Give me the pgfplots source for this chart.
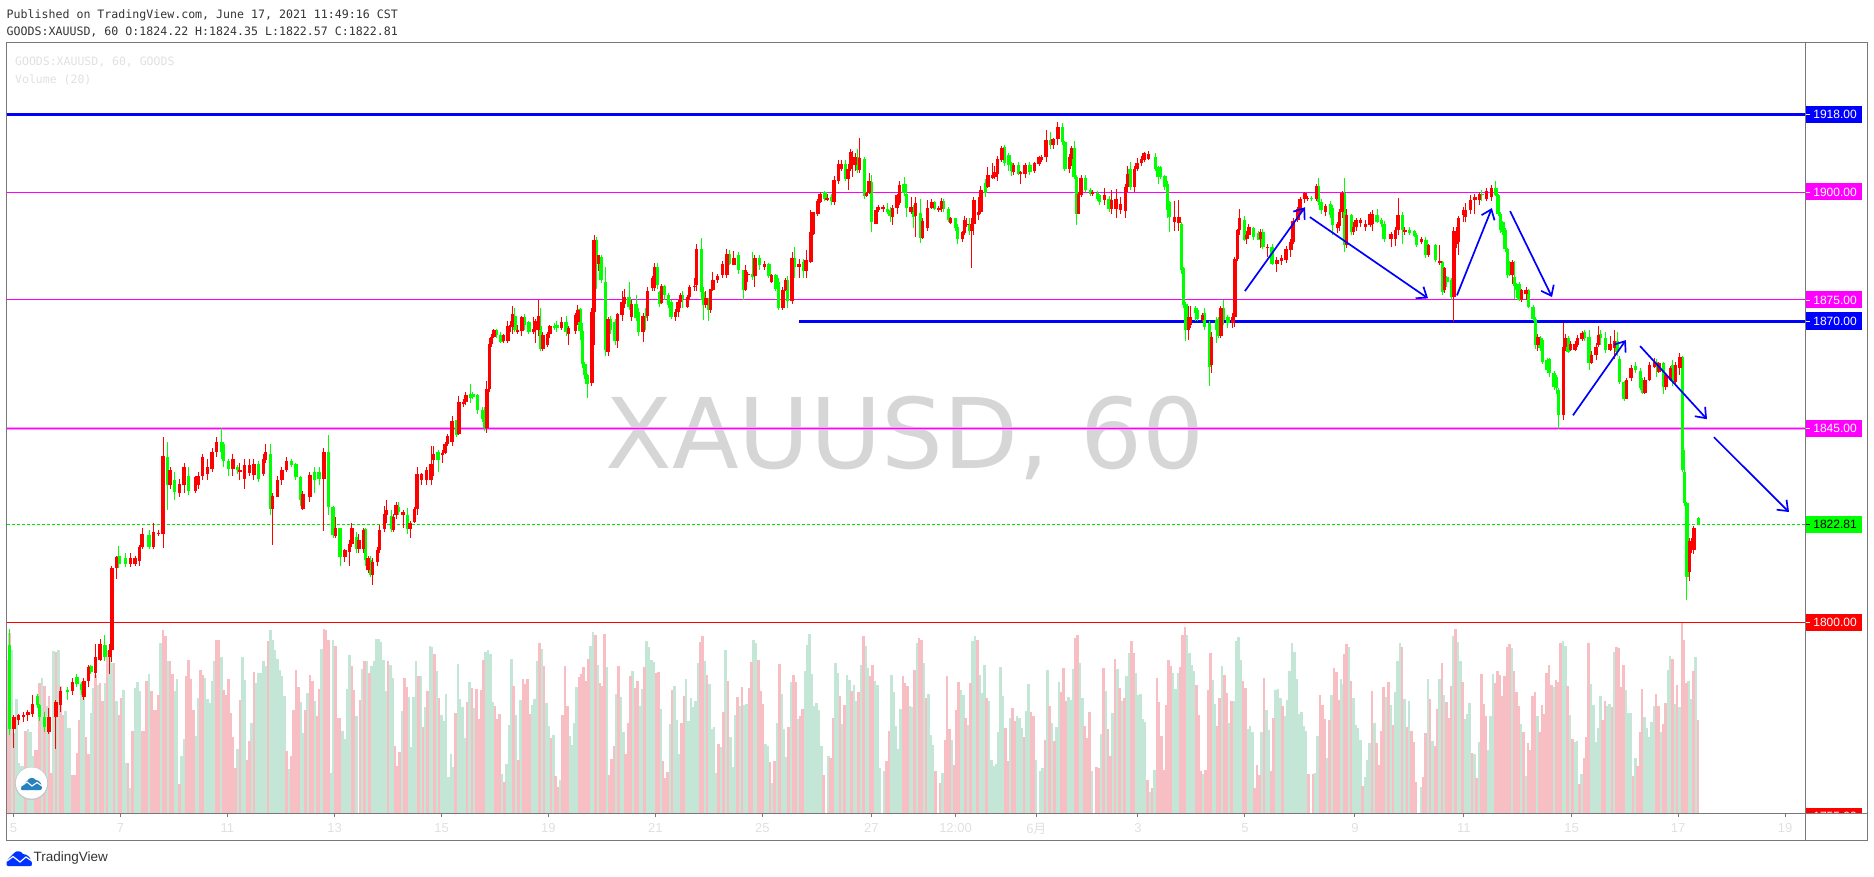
\documentclass[border=0pt]{standalone}
\usepackage{fontspec}
\usepackage{pgfplots}
\usepackage{pgfplotstable}
\pgfplotsset{compat=1.18}
\usetikzlibrary{arrows.meta}
\setmainfont{Liberation Sans}
\newfontfamily\monof{DejaVu Sans Mono}
\newfontfamily\markf{DejaVu Sans}
\newfontfamily\cjk{Noto Sans CJK SC}
\definecolor{upc}{HTML}{FF0000}
\definecolor{dnc}{HTML}{00FF00}
\definecolor{volup}{HTML}{F7BFC3}
\definecolor{voldn}{HTML}{C3E6D6}
\definecolor{frame}{HTML}{787878}
\definecolor{faint}{HTML}{E0E0E0}
\definecolor{mag}{HTML}{FF00FF}
\definecolor{lineb}{HTML}{0000FF}
% t = hour index, one row for about every second bar
\pgfplotstableread{
t o h l c
1 1794.6 1798.5 1773.7 1775.2
3 1775.2 1778.5 1770.7 1778
5 1777.2 1778.6 1776 1778.5
7 1778 1779 1776.8 1778.3
9 1778.4 1779.5 1777 1779
11 1778.7 1783 1778 1780.9
13 1782.8 1783.2 1780 1780.7
14 1780.7 1781 1777 1778
16 1778 1779 1774.5 1775.5
18 1774.5 1780 1774 1778
21 1778 1782 1770.4 1781.5
23 1780.7 1785 1779 1784
26 1784.2 1785 1782 1784
28 1784 1787 1783 1786
30 1787.2 1788 1785 1785.7
32 1785.7 1786 1783 1784.2
33 1782.6 1787 1782 1786.2
35 1786.2 1790 1785 1789.6
36 1789.7 1790 1788 1788.4
38 1788.2 1795 1787 1792
40 1791.3 1796 1791 1794.9
42 1794.6 1797 1791 1791.8
44 1791.8 1795 1788 1793.5
45 1793.5 1813 1790.7 1812.5
47 1812.5 1815.5 1810 1815.2
48 1815.5 1817.8 1812.5 1813.6
51 1815 1816 1812.8 1813.6
53 1813.6 1816 1812.8 1814.8
55 1813.6 1815.5 1813 1814.8
57 1814.2 1818 1813 1817.5
58 1817.5 1822 1817 1820.4
61 1820.2 1821.5 1817 1817.5
63 1817.5 1823 1817 1821
65 1820.6 1821.5 1820 1820.8
67 1820.5 1843 1817.2 1838.6
69 1838.5 1842 1826 1831.8
70 1831.8 1836 1831 1835.3
72 1833 1835 1828.5 1830.3
74 1830 1833.2 1829 1832.2
76 1832 1837 1830 1836
78 1834 1836 1829.6 1830.5
81 1830.5 1834 1830 1833.8
82 1831.8 1835 1831 1833.9
84 1833.9 1839 1833 1838.3
86 1834.4 1838 1833 1836
88 1835.7 1840.5 1835 1839.6
90 1839.6 1843 1838.5 1841.9
92 1842 1845.2 1838 1839.6
93 1841.5 1842 1836 1837.6
95 1837.6 1838 1834 1835.7
97 1835.7 1839 1834 1838
99 1836.1 1836.5 1834.5 1835.3
100 1835 1837 1833 1835.5
102 1833.2 1838 1831 1836.5
104 1834.7 1838 1834 1836.5
106 1834.2 1838 1833 1836.9
108 1836.9 1837.5 1832.5 1833.2
110 1834.5 1839 1834 1838
111 1837.8 1841.5 1837 1839.6
113 1839.2 1841.5 1825 1826.4
114 1826.4 1830 1818 1829.3
116 1829.2 1834 1829 1833
118 1833 1836 1832 1835.3
120 1835.3 1838.5 1835 1837.6
122 1837.5 1838 1836 1836.5
124 1836.7 1837 1833 1833.8
126 1833.8 1834 1827 1828.3
127 1826.2 1830.5 1826 1829.9
130 1829.1 1835 1828 1834.2
132 1835 1836 1830 1833
134 1835 1836 1832 1833.3
136 1833.4 1840.5 1821.2 1839.6
138 1839.6 1843.5 1825 1826.8
140 1826.8 1827 1819.5 1820.2
141 1820 1824.5 1819.5 1822
143 1821.8 1822 1813 1815.2
145 1815.2 1817 1814 1816.7
147 1816.3 1819 1813 1818.2
148 1818.2 1823 1817.5 1821.8
150 1819.8 1821 1816 1817.1
151 1817.1 1820.6 1816 1819
153 1817.1 1822 1816 1821.4
154 1821.7 1822 1813 1814.4
155 1812.1 1815.5 1811.5 1814.8
156 1814.4 1815.5 1810.5 1810.9
157 1810.9 1815 1808.6 1814
159 1814 1817.5 1813 1816.7
160 1816.7 1822.5 1816 1821.4
162 1821.7 1827 1821 1825.2
163 1824.9 1828.4 1823 1826
165 1824.8 1826 1821 1821.7
166 1821.4 1825.2 1821 1824.5
167 1824.9 1828 1824 1827.2
168 1826.8 1828 1825 1825.6
170 1824.9 1826 1822 1825.6
172 1824.9 1826.5 1820.6 1821.7
173 1821.7 1823.5 1819.5 1823
175 1823.3 1826.8 1823 1826.4
176 1826.4 1836 1825 1834.5
178 1833 1834.8 1832 1834.5
180 1833.1 1836 1832 1835.5
182 1833 1841 1832 1836.8
183 1837.6 1841 1834 1839.2
185 1839.6 1840 1835 1837.6
187 1838.8 1840 1837 1839.4
188 1839.4 1842 1839 1841.5
189 1841.5 1843.7 1841 1843.4
191 1841.9 1847.9 1841 1846.9
193 1846.9 1847 1843 1843.6
194 1843.8 1852.7 1843.5 1851.2
196 1850.7 1851.8 1850 1851.2
197 1851.2 1853.5 1850.5 1852.8
199 1853.1 1855.3 1851 1852.2
200 1853.1 1853.5 1852 1852.4
202 1852.9 1853.1 1848.5 1849.4
204 1849.4 1850 1846.5 1847.3
205 1847.3 1850 1844.5 1845.2
206 1845.2 1856 1844 1854.3
207 1854.3 1866 1853.5 1864.6
208 1864.6 1867 1864 1866.3
209 1866.3 1868.2 1866 1867.9
210 1868 1868.3 1866 1866.7
212 1866.9 1867.5 1865 1865.2
213 1865.5 1867 1865 1866.7
215 1865.5 1870 1865 1868.8
216 1868.6 1870 1867.5 1869.2
217 1868.6 1873.6 1867 1871.7
218 1871.3 1873 1867.5 1867.9
219 1867.6 1869 1867 1868
221 1867.7 1871.2 1866.5 1871
222 1871 1871.6 1868 1869
224 1869.8 1870 1867 1867.5
226 1867.5 1871 1867 1868.2
227 1867.9 1870.5 1865 1870
228 1868 1875 1866.5 1871.1
229 1869 1873 1863 1863.6
230 1863.6 1867.5 1863 1866.7
232 1864.4 1867.5 1864 1867.1
233 1867.1 1869 1866 1868.8
235 1869 1869.5 1868 1868.5
236 1869.2 1870 1867.5 1868.5
238 1868.3 1871 1868 1869.8
240 1869.8 1871.3 1866.5 1867.5
241 1867.1 1869 1864.5 1868.5
244 1867.7 1872 1867 1871.4
245 1869.8 1873.8 1869 1872.7
246 1872.9 1873 1865.7 1867.7
247 1867.7 1869.5 1859 1860.1
248 1860.1 1860.5 1856.5 1857.4
249 1857.4 1857.8 1852.2 1855.5
251 1855.6 1873 1855 1872.1
252 1872.1 1890 1864.5 1888.8
253 1888.9 1889.5 1877.5 1883.4
254 1883.4 1885.5 1881.7 1885.3
255 1884.9 1885.3 1879 1879.5
257 1879.1 1882.5 1862 1863.2
258 1862.8 1871 1862 1870.6
259 1870.4 1871.2 1867 1867.9
261 1869.8 1870.5 1864.5 1865.5
262 1865.5 1872 1863.8 1871.6
264 1871.4 1877 1870 1874.5
265 1874.1 1877.5 1873 1875.6
267 1875.6 1879 1872.5 1873.3
268 1871 1875 1870 1873.9
270 1874 1876 1870 1870.8
271 1872.1 1873 1866.5 1867.5
273 1867.6 1872 1865.2 1871.1
274 1871.3 1873 1868 1870.8
275 1871.1 1878 1870 1877
277 1877.6 1880.6 1877 1880.1
278 1877.8 1883.6 1877 1882.6
279 1882.6 1883.6 1877.5 1878.3
280 1876.8 1877 1873.3 1874.1
281 1874.2 1878.6 1874 1878.3
282 1878.1 1878.5 1875 1876
284 1876 1876.5 1873 1873.7
285 1874.5 1875 1870.5 1871
287 1871 1872.8 1870 1872.1
288 1872.1 1875 1871 1874.5
289 1874.5 1876.5 1873 1876
290 1876 1877 1873 1875.2
292 1873.3 1876 1873 1875.6
293 1875.6 1878.5 1875 1878
295 1878 1880 1877 1878.3
296 1878.3 1888 1877 1886.9
298 1886.9 1889.3 1875 1876.8
299 1876.8 1878 1870.2 1873.7
300 1873.7 1877 1873 1875.3
301 1875.3 1875.5 1870 1872.6
302 1872.6 1877.6 1872 1877.4
303 1877.2 1881.5 1877 1879.5
305 1879.5 1881 1879 1880.5
307 1880.7 1884 1880 1883.4
309 1880.7 1886.7 1880 1885.7
310 1885.7 1886.5 1883 1883.2
312 1883 1886.3 1883 1884.6
314 1885.5 1886 1881 1881.9
316 1881.9 1882 1875 1877.2
317 1877.2 1883 1877 1881.9
318 1880.8 1881.5 1879 1881
320 1881 1886 1879.5 1880.3
321 1880.5 1885.5 1878 1884.6
323 1884.6 1885.5 1882 1883
325 1882.6 1884 1882 1883.2
327 1883.2 1883.5 1880 1880.5
328 1879.2 1881 1879 1880.7
330 1880.7 1881 1877 1877.6
331 1879.1 1880 1872.6 1873
333 1873 1878 1872.6 1877.2
334 1877.2 1880 1877 1879.5
335 1879.5 1880.5 1873 1874.7
337 1874.7 1886.2 1874 1884.6
338 1884.6 1887.2 1880 1882.6
340 1882.5 1884.5 1880 1883.4
342 1883.8 1884.5 1880 1881.7
343 1881.7 1886.5 1880 1884.2
345 1883.8 1895.8 1883.5 1890.8
346 1890.4 1895.5 1890 1895.3
348 1895 1898.5 1894.5 1898
349 1897.8 1900 1897.5 1899.7
351 1900 1900.2 1898 1898.5
352 1898.3 1899.5 1898 1898.7
354 1898.9 1899.5 1897 1898
355 1897.8 1903.7 1897 1902.8
357 1902.6 1907.5 1902 1906.5
358 1905.3 1907.5 1905 1906.5
360 1906.5 1907.5 1902.5 1903
361 1903 1906.5 1900.5 1905.5
362 1905.3 1910 1905 1909.4
363 1906.3 1909.5 1903.6 1908.2
364 1906.3 1909 1905 1908.2
365 1908.2 1910 1904.5 1905.1
366 1905.1 1912.7 1904.5 1908
368 1907.8 1908.2 1898.5 1899.1
369 1899.1 1900 1899 1899.8
370 1899.8 1904.5 1899.5 1902.6
371 1902.4 1904 1890.7 1893.1
373 1892.7 1896.5 1892.5 1895.8
374 1895.8 1897 1895.5 1896.6
376 1896 1897 1895.5 1896.6
378 1896.2 1897.5 1895 1895.4
379 1895.8 1896.5 1893 1894.4
380 1894.3 1897 1892.3 1896.4
382 1896.4 1899.6 1895 1899.3
383 1897.4 1902.5 1897 1901.6
385 1902 1903.5 1899 1899.7
386 1899.7 1902 1894.2 1896.4
388 1895.4 1899 1895 1896.6
389 1896.6 1897 1891.7 1894.3
390 1894.4 1899 1889.5 1897.4
392 1895.2 1898.5 1888.2 1889.4
393 1889.4 1894 1889 1893.3
395 1891.6 1898.2 1891 1896.4
397 1896.4 1898.5 1896 1897.7
398 1897.7 1898 1895.8 1896.2
400 1896 1896.8 1895.5 1896.3
401 1896.2 1898.6 1895.5 1898
402 1898 1898.5 1895.5 1896.2
404 1896.2 1896.5 1893 1893.6
405 1892.9 1894.2 1892.5 1893.9
407 1893.9 1894 1891 1891.6
408 1892 1892.5 1887.9 1889.2
410 1889.2 1891 1888.5 1890.8
411 1890.5 1894.5 1890 1893.5
412 1892.4 1894 1892 1892.7
413 1892.7 1894 1890 1891
414 1891 1894 1882.4 1892.7
415 1892.6 1899 1890 1898.2
417 1894.6 1899 1893.5 1895.4
418 1895.4 1901.5 1895 1900.5
420 1902.2 1903 1899 1899.8
421 1901.2 1905.8 1901 1904
423 1903.4 1906.7 1903 1904
424 1903.6 1906 1903 1904.7
425 1904.3 1908.5 1902.5 1907.8
427 1907.4 1910.7 1907 1910.2
428 1910.5 1911 1906 1906.7
430 1908.6 1909 1905 1906.3
431 1906.7 1907 1903.7 1905
432 1904.7 1906.8 1904 1906.3
434 1906.3 1907 1904 1904.3
435 1904.4 1905 1902 1904.7
437 1904.3 1906.7 1903.3 1906.3
439 1906.3 1907 1904 1904.7
441 1905 1907 1904.5 1906.7
443 1906.5 1908.5 1906 1908.2
444 1907.5 1908.7 1907 1908.2
446 1908.1 1914.5 1907 1912.1
448 1912.1 1914 1910 1911
449 1911 1912.5 1910 1912.3
451 1912.3 1916.4 1911 1915.1
453 1915.2 1916.1 1911 1911.7
454 1911.7 1912 1905 1905.3
456 1905.3 1909 1904.5 1908.2
457 1907.8 1910.8 1906 1910.2
458 1910.2 1911.8 1903 1903.6
459 1903.6 1904 1892.4 1895
460 1895 1900 1894.9 1899.7
461 1899.3 1904 1899 1903.4
463 1903.4 1904 1900 1900.6
465 1900.6 1901 1899 1899.5
466 1899.7 1900.5 1899 1900.1
468 1899.9 1900.3 1897.9 1898.5
469 1899.3 1899.6 1897 1897.8
471 1898.1 1901 1897 1899.3
473 1898.5 1899 1895.5 1896
474 1896 1900.5 1895 1898.3
476 1896.2 1900.7 1894 1898.5
478 1895.8 1899 1895 1897.2
480 1895.7 1902 1894 1901.1
481 1901.1 1906 1900 1904.3
482 1905.5 1907 1900.5 1901.2
484 1901.1 1906 1900 1905.5
485 1905.5 1908 1905 1906.7
487 1906.7 1908.5 1906 1907.8
488 1907.6 1909.4 1907 1909
490 1907.8 1909.5 1907.5 1908.8
493 1908.2 1909 1905 1905.5
494 1905.9 1906 1902 1903.6
495 1905.9 1906.2 1903 1903.6
497 1903.7 1904 1900.6 1901.1
498 1902 1902.5 1894 1895.8
499 1897.8 1898 1890.8 1894.3
501 1893.1 1898 1891 1894.3
503 1892.9 1898.1 1891 1894.3
504 1892.7 1893 1881 1881.9
505 1882.3 1882.6 1873 1873.7
506 1874.1 1874.5 1865.5 1867.9
507 1867.9 1873.5 1865.7 1870.9
508 1869.1 1873.5 1868.5 1871
510 1873 1873.5 1870 1871.8
511 1872.6 1873 1870 1870.6
513 1870.2 1871.8 1869.8 1871.4
514 1871.8 1873 1868 1868.7
516 1869.5 1870 1855 1859.3
517 1859.8 1867.5 1858 1866.3
519 1870.2 1871 1865 1867.9
520 1870.6 1871 1866 1866.5
521 1866.5 1873.5 1866 1873
522 1873 1875 1869 1870.2
524 1871 1871.5 1868.5 1869.5
526 1869.5 1872 1868.5 1871
527 1871 1885 1868.7 1884.4
528 1884.4 1891.5 1884 1891.2
529 1891.2 1896.2 1890 1893.9
531 1893.5 1894.5 1888.6 1889
532 1889 1891 1888 1890
533 1890 1892.5 1889 1892
535 1891.6 1892 1889 1889.5
537 1890.5 1891 1888.8 1889
538 1889 1891.5 1887 1890.8
539 1890.8 1891.5 1886.8 1887.3
541 1887 1888 1885 1887.3
543 1887.3 1888 1883 1883.4
545 1883.4 1885 1881.5 1884.3
547 1884 1885.5 1883 1884.8
549 1884.3 1887.5 1883.5 1886.9
551 1886.5 1889 1885 1888.5
552 1888.5 1894 1888 1893.3
554 1893.6 1896.5 1893 1896
555 1895.4 1899 1895 1898.5
557 1898.5 1900 1897.5 1899.8
558 1898.4 1899 1898 1898.7
560 1898.7 1899 1898 1898.4
562 1898.5 1901.8 1898 1901.4
563 1901.4 1903.2 1897 1897.8
564 1897.8 1898.5 1895 1895.8
566 1895.4 1897.3 1894.5 1896.7
568 1897.2 1898 1894 1894.7
569 1896.4 1897 1890 1892.3
571 1891.6 1893 1890.5 1892.7
572 1892.1 1896 1891 1895.4
573 1895.4 1900.2 1894 1899.8
574 1899.8 1903.4 1886 1887.7
575 1887.7 1896 1887 1894.7
577 1894.7 1895 1890 1890.8
578 1890.8 1893 1890 1892
579 1892 1894 1891 1893.5
581 1892.9 1894 1892 1893.5
583 1892 1893.5 1891 1892.7
585 1892.3 1895.5 1891.8 1895
586 1892.6 1895.8 1891 1894.9
588 1894.7 1896 1892.8 1893.1
590 1893.5 1894 1892 1892.6
591 1892.7 1893.3 1888.5 1889.2
594 1889.2 1890.8 1887.3 1890.2
596 1889.2 1892 1887.5 1891.2
597 1891.2 1898.7 1890 1894.7
599 1894.7 1895.3 1888 1891.2
600 1890.8 1892 1890 1891.3
602 1891.3 1892 1890 1890.5
604 1891 1891.3 1889.5 1889.8
605 1890 1890.5 1887.3 1887.7
607 1888.5 1889.5 1888 1889
609 1888.8 1889.5 1884.8 1885.4
610 1885.4 1888 1885 1887.7
613 1887.7 1888 1883.7 1884.2
615 1883.6 1887.8 1883 1884
616 1883.8 1884 1876 1876.8
617 1877.2 1882.6 1876.5 1882.3
618 1880.3 1880.5 1878 1879.2
620 1879.5 1880 1875 1875.7
621 1875.7 1892 1869.8 1891
622 1888 1892 1887 1890.8
623 1888.5 1894.5 1885.5 1893.9
625 1894.7 1896.5 1893 1895.8
626 1894.3 1897.5 1893 1895.8
628 1895.8 1899.3 1895 1898.1
630 1898.1 1899.6 1895 1898.9
632 1898.1 1900 1897 1899.5
633 1899.7 1900.5 1898 1899.3
635 1898.5 1901 1898 1900.3
637 1898.8 1901.7 1898 1900.9
639 1900.9 1902.7 1899 1899.3
640 1899.3 1899.5 1894.5 1895
641 1895 1895.3 1890.6 1891.1
642 1893 1893.2 1890 1890.8
643 1891.1 1891.6 1886 1886.9
644 1886.9 1887 1880 1880.7
645 1883.8 1884 1880.5 1880.7
646 1880.7 1884.2 1878.6 1883.8
647 1880.3 1884 1875.2 1878.3
648 1878.7 1879 1875.5 1877.2
649 1878.7 1879 1874.7 1874.9
650 1874.9 1877.5 1874.5 1877.2
652 1876.3 1878 1875 1877.3
653 1877.3 1877.5 1873 1873.3
655 1873.3 1873.7 1870 1870.6
656 1870.6 1871 1863.5 1864.4
657 1864.4 1867 1863 1866.4
658 1866 1866.5 1863 1863.7
659 1865.6 1866 1860 1860.6
661 1860.9 1861.5 1858 1858.6
662 1861.1 1861.5 1857 1858
664 1858 1858.5 1854 1854.7
665 1857.1 1857.5 1853 1854.4
666 1854 1854.5 1845 1848.2
668 1848.2 1869.5 1847 1864
669 1864 1867 1863 1866
670 1866 1866.5 1862.5 1862.9
671 1863.3 1865.5 1863 1864.8
673 1863.4 1865.5 1863 1864.8
674 1864.4 1866.7 1864 1866.2
676 1865.8 1867.6 1865.5 1867.2
677 1867.5 1868 1865.5 1866
679 1866.4 1868 1858.7 1860.2
680 1860.2 1863 1860 1862.1
682 1862.1 1865 1861 1864
683 1864.4 1869 1864 1866.8
684 1867.1 1868 1864.5 1866
686 1866 1867.5 1862.5 1863.4
688 1863.4 1866.5 1863 1864.8
690 1863.7 1867.9 1861.3 1865.4
691 1865.4 1867.5 1862 1862.9
692 1861.3 1862 1855.5 1855.9
694 1855.9 1856 1851.5 1852
695 1852 1856.8 1851.8 1856.4
697 1856.7 1859.7 1856 1859.2
699 1859.6 1860.6 1858 1858.6
701 1858.5 1859 1854 1854.4
702 1856.3 1856.7 1853 1853.4
703 1853.4 1857 1853 1856.3
705 1856.3 1860.5 1856 1859.8
707 1859.4 1861.5 1859 1860.6
708 1860.6 1861.2 1857 1859.4
709 1858.2 1860.6 1858 1860.2
711 1860.2 1860.5 1853 1854.7
712 1854.7 1858 1854 1857.5
714 1856.3 1859.5 1856 1859
715 1859.8 1861 1855 1855.9
716 1855.9 1860.5 1855 1859.8
718 1859 1862.5 1857.5 1861.6
719 1861.6 1862 1835 1835.4
720 1835 1840 1827 1827.6
721 1827.6 1828 1805.2 1810.6
722 1811.7 1819.5 1809.6 1818.9
723 1818.5 1819.5 1816 1818.7
724 1816.8 1822.3 1815.9 1821.8
726 1824.22 1824.35 1822.57 1822.81
}\ohlc
% volume, positive on up bars and negative on down bars
\pgfplotstableread{
v
153
180
-163
80
-114
-50
-47
-47
82
-84
-81
-57
63
63
130
-135
127
-107
117
40
-162
161
-163
127
98
-102
-85
-85
38
38
60
93
-123
-125
76
59
-100
-125
138
-128
130
112
-130
162
-158
-150
150
-112
98
115
-123
-50
50
-25
82
-125
-131
-122
82
82
132
-139
122
103
103
118
-170
183
177
-152
152
139
-122
-134
29
-57
-74
137
153
134
103
-77
-115
143
138
-135
-114
-110
-132
-152
173
173
-156
123
118
134
100
76
45
-64
113
-156
-133
53
72
-90
141
-130
-140
-140
-152
-147
172
-183
-173
-163
-154
-143
-137
-117
62
-44
57
103
143
126
-111
-80
103
-120
138
132
-112
97
124
-164
184
183
173
-40
-173
167
95
95
-82
-74
-124
-158
147
123
-97
}\volA
\pgfplotstableread{
v
113
-144
152
-152
140
-147
-152
-174
-174
-171
-153
-122
152
-148
-135
67
47
61
-102
135
126
-116
-66
-116
-152
137
-137
86
-106
122
-167
-166
159
-142
115
-98
-92
-119
-36
-59
-46
100
-149
-114
-106
-75
111
-131
125
-105
124
94
123
153
-161
-163
-159
-111
107
94
99
-39
31
-49
-88
-154
127
-98
53
-113
134
129
134
99
-108
-114
-152
170
-164
147
-110
-87
75
-78
37
26
-33
98
147
107
-77
-68
-90
-126
136
139
146
132
154
-167
-181
178
-148
130
127
179
-146
38
54
67
-119
147
-116
-81
59
90
137
-142
125
132
-107
-124
146
-172
-166
-153
-151
140
141
-104
52
35
41
-89
123
-127
-93
-59
90
117
-134
-92
-115
-106
-112
-150
171
177
-152
138
-129
-84
-86
-40
69
-66
101
-163
132
-76
-46
-98
116
-107
126
-108
-109
125
151
-173
-170
153
122
109
-69
-67
51
-30
52
-90
149
-119
-84
-56
86
-131
138
131
-94
97
104
-142
-168
-179
-139
-107
-110
-103
-67
38
0
-57
55
95
-150
-140
}\volB
\pgfplotstableread{
v
117
-89
108
-138
-133
122
-128
-112
121
-148
177
-167
-145
137
148
-132
-128
-45
0
-42
52
82
-138
-121
-87
-64
-104
137
130
127
-107
-106
143
-170
175
173
-150
115
-119
-78
-68
42
0
30
-40
73
137
84
-73
48
103
131
-123
-118
95
-88
130
-172
-177
173
-138
-120
-148
115
-112
-53
-47
-49
-81
-146
-117
85
52
-95
105
92
-97
-95
-85
76
-102
-129
101
97
-53
0
-42
-45
73
-143
107
-90
72
-86
-131
121
145
112
-116
-113
-144
175
178
-150
-115
87
75
101
-42
0
46
45
-79
145
-122
84
57
-100
154
-144
125
-112
115
-137
-160
172
160
-140
-118
-119
-94
-91
33
-21
25
-43
135
111
77
43
108
153
147
-140
-124
-140
146
178
186
-178
-160
-148
-142
128
98
42
-39
43
123
160
-133
-109
87
115
-147
138
120
-90
112
-112
-172
-176
-153
132
125
-84
-87
-81
25
48
38
-81
135
-103
-83
42
95
-123
-124
-115
107
-97
-113
-142
-170
-161
-134
-99
-101
-87
-82
39
0
39
-40
-77
118
108
94
-55
93
-118
145
141
113
-134
}\volC
\pgfplotstableread{
v
-129
159
169
-166
132
-115
-88
-85
-73
27
-36
-53
-70
122
-90
70
48
82
126
-116
131
-108
88
-121
-152
-170
166
-114
86
-112
82
71
31
0
-26
36
80
-134
114
-72
67
104
-134
150
-118
111
95
127
-177
184
-171
-152
131
-94
-99
-110
60
-59
35
-71
139
109
97
-63
-97
-139
130
142
138
117
137
166
169
-165
142
121
107
-89
81
-37
70
63
117
121
-97
81
108
99
140
148
128
-126
133
131
170
-172
-167
127
-98
74
-71
-72
29
-39
55
76
170
-129
-108
-71
-85
-117
93
112
-107
-109
106
-161
166
165
126
148
-123
-100
-100
37
-55
47
81
124
-96
-85
-76
-91
-107
119
107
-81
89
110
-143
-157
154
-109
128
-106
190
173
130
-132
-114
142
-156
93
}\volD
\begin{document}
\begin{tikzpicture}[x=1pt,y=-1pt]
\path[use as bounding box] (0,0) rectangle (1874,877);
% watermark first, all the plots lie over it
\node[inner sep=0,text=black!16,font=\markf\fontsize{97.5}{97.5}\selectfont,anchor=base] at (905,468) {XAUUSD, 60};
% volume pane
\begin{axis}[name=vol,at={(6.5pt,-813pt)},anchor=south west,scale only axis,width=1799pt,height=770pt,
  xmin=-0.2,xmax=771.9,ymin=0,ymax=770,axis lines=none,clip=true]
\newcommand{\volbars}[2]{%
  \addplot[ycomb,voldn,line width=2.6pt,no marks] table[x index=0,y index=0,x expr=\coordindex+#2,y expr={\thisrow{v}<0 ? -\thisrow{v} : nan}] {#1};
  \addplot[ycomb,volup,line width=2.6pt,no marks] table[x index=0,y index=0,x expr=\coordindex+#2,y expr={\thisrow{v}>0 ? \thisrow{v} : nan}] {#1};
}
\volbars{\volA}{0}
\volbars{\volB}{151.5}
\volbars{\volC}{357.5}
\volbars{\volD}{572.8}
\end{axis}
% price pane
\begin{axis}[name=price,at={(6.5pt,-813pt)},anchor=south west,scale only axis,width=1799pt,height=770pt,
  xmin=-0.2,xmax=771.9,ymin=1755.6,ymax=1934.7,
  ytick=\empty,
  xtick={2.8,48.7,94.6,140.6,186.5,232.4,278.3,324.2,371,407.1,441.8,485.4,531.3,578.5,625.3,671.5,717.2,763.1},
  xticklabels={5,7,11,13,15,19,21,25,27,12:00,{\cjk 6月},3,5,9,11,15,17,19},
  xtick pos=bottom,tick align=outside,major tick length=4pt,
  tick style={frame,line width=1pt},
  xticklabel style={text=faint,font=\fontsize{13}{13}\selectfont,yshift=-3pt},
  axis line style={frame,line width=1pt},clip=true]
% levels
\addplot[lineb,line width=3pt] coordinates {(-0.2,1918) (771.9,1918)};
\addplot[mag,line width=1pt] coordinates {(-0.2,1900) (771.9,1900)};
\addplot[mag,line width=1pt] coordinates {(-0.2,1875) (771.9,1875)};
\addplot[lineb,line width=3pt] coordinates {(340,1870) (771.9,1870)};
\addplot[mag!40,line width=3.4pt] coordinates {(-0.2,1845) (771.9,1845)};
\addplot[mag,line width=1.4pt] coordinates {(-0.2,1845) (771.9,1845)};
\addplot[upc,line width=1pt] coordinates {(-0.2,1800) (771.9,1800)};
\addplot[dnc!90!black,line width=1pt,densely dashed] coordinates {(-0.2,1822.81) (771.9,1822.81)};
% candles
\addplot[draw=none,no markers,error bars/.cd,y dir=both,y explicit,error mark=none,error bar style={solid,dnc,line width=1pt}]
  table[x=t,y expr={\thisrow{c}<\thisrow{o} ? (\thisrow{h}+\thisrow{l})/2 : nan},y error expr={(\thisrow{h}-\thisrow{l})/2}] {\ohlc};
\addplot[draw=none,no markers,error bars/.cd,y dir=both,y explicit,error mark=none,error bar style={solid,dnc,line width=3.4pt}]
  table[x=t,y expr={\thisrow{c}<\thisrow{o} ? (\thisrow{o}+\thisrow{c})/2 : nan},y error expr={(\thisrow{o}-\thisrow{c})/2}] {\ohlc};
\addplot[draw=none,no markers,error bars/.cd,y dir=both,y explicit,error mark=none,error bar style={solid,upc,line width=1pt}]
  table[x=t,y expr={\thisrow{c}>=\thisrow{o} ? (\thisrow{h}+\thisrow{l})/2 : nan},y error expr={(\thisrow{h}-\thisrow{l})/2}] {\ohlc};
\addplot[draw=none,no markers,error bars/.cd,y dir=both,y explicit,error mark=none,error bar style={solid,upc,line width=3.4pt}]
  table[x=t,y expr={\thisrow{c}>=\thisrow{o} ? (\thisrow{o}+\thisrow{c})/2 : nan},y error expr={(\thisrow{c}-\thisrow{o})/2}] {\ohlc};
% hand drawn arrows
\tikzset{ann/.style={lineb,line width=1.7pt,-{Straight Barb[length=9pt,width=14pt]}}}
\addplot[ann] coordinates {(531.3,1877) (557.1,1896.5)};
\addplot[ann] coordinates {(559.2,1894.2) (609.9,1875.3)};
\addplot[ann] coordinates {(622.3,1876) (637.3,1896.3)};
\addplot[ann] coordinates {(645.1,1895.6) (663.1,1875.6)};
\addplot[ann] coordinates {(672.1,1848.1) (694.8,1865.6)};
\addplot[ann] coordinates {(700.9,1864.2) (729.6,1847.2)};
\addplot[ann] coordinates {(732.6,1843) (764.8,1825.6)};
\end{axis}
% outer frame and price scale
\draw[frame,line width=1pt] (6.5,43) rectangle (1867,840);
\draw[frame,line width=1pt] (1805.5,43) -- (1805.5,840);
\draw[frame,line width=1pt] (1805.5,813) -- (1867,813);
\begin{scope}
\clip (1806,44) rectangle (1862,812.5);
\fill[upc] (1806,808) rectangle (1862,825);
\node[text=white,font=\fontsize{12}{12}\selectfont,inner sep=0] at (1835,816.5) {1755.00};
\end{scope}
\foreach \py/\pc/\pt/\tc in {114.5/lineb/1918.00/white,192/mag/1900.00/white,300/mag/1875.00/white,321/lineb/1870.00/white,428.5/mag/1845.00/white,622/upc/1800.00/white,524/dnc/1822.81/black}{
  \fill[\pc] (1806,\py-8.5) rectangle (1862,\py+8.5);
  \draw[\tc,line width=0.8pt] (1806,\py) -- (1810,\py);
  \node[text=\tc,font=\fontsize{12}{12}\selectfont,inner sep=0] at (1835,\py) {\pt};
}
% header text
\node[anchor=west,inner sep=0,text=black!80,font=\monof\fontsize{11.6}{12}\selectfont] at (6.5,15) {Published on TradingView.com, June 17, 2021 11:49:16 CST};
\node[anchor=west,inner sep=0,text=black!80,font=\monof\fontsize{11.6}{12}\selectfont] at (6.5,32) {GOODS:XAUUSD, 60 O:1824.22 H:1824.35 L:1822.57 C:1822.81};
\node[anchor=west,inner sep=0,text=faint,font=\monof\fontsize{11.5}{12}\selectfont] at (15,62.5) {GOODS:XAUUSD, 60, GOODS};
\node[anchor=west,inner sep=0,text=faint,font=\monof\fontsize{11.5}{12}\selectfont] at (15,79.5) {Volume (20)};
% logos
\fill[black!22] (31.5,783.5) circle (16.6);
\fill[white] (31.5,783) circle (15.6);
\fill[blue!40!cyan!70!black!85!white] (21,789) .. controls (21,785) and (24,784) .. (27,781) .. controls (30,777) and (33,777) .. (36,780) .. controls (40,780) and (42,785) .. (42,788) .. controls (42,789) and (41,790) .. (40,790) -- (22,790) .. controls (21,790) and (21,790) .. (21,789) -- cycle;
\draw[white,line width=1.1pt] (22,785.5) -- (27,782) -- (32,786) -- (37,782.5) -- (42,786);
\fill[blue!80!cyan] (6.5,864) .. controls (6,859) and (11,857) .. (14,853) .. controls (17,850) and (21,851) .. (23,854) .. controls (28,854) and (32,859) .. (32,864) .. controls (32,866) and (31,866) .. (30,866) -- (8,866) .. controls (7,866) and (6.5,865) .. (6.5,864) -- cycle;
\draw[white,line width=1.2pt] (7,861) -- (13,856.5) -- (20,862) -- (26,857) -- (32,861);
\node[anchor=west,inner sep=0,text=black!80,font=\fontsize{13.5}{14}\selectfont] at (33.5,858.5) {TradingView};
\end{tikzpicture}
\end{document}
